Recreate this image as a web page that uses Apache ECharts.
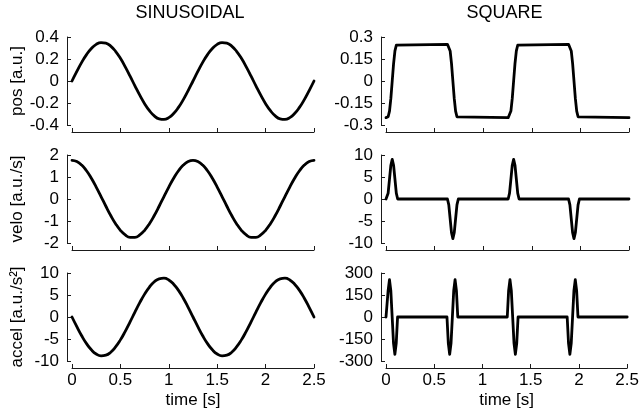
<!DOCTYPE html>
<html><head><meta charset="utf-8">
<script src="https://cdn.jsdelivr.net/npm/echarts@6/dist/echarts.min.js"></script>
<style>html,body{margin:0;padding:0;background:#fff}#c{width:642px;height:416px}</style>
</head><body><div id="c"></div>
<script>
// ---------- data ----------
const sinTime = [0,0.05,0.1,0.15,0.2,0.25,0.3,0.35,0.4,0.45,0.5,0.55,0.6,0.65,0.7,0.75,0.8,0.85,0.9,0.95,1,1.05,1.1,1.15,1.2,1.25,1.3,1.35,1.4,1.45,1.5,1.55,1.6,1.65,1.7,1.75,1.8,1.85,1.9,1.95,2,2.05,2.1,2.15,2.2,2.25,2.3,2.35,2.4,2.45,2.5];
const sinPos = [0,0.087,0.169,0.240,0.296,0.333,0.349,0.344,0.317,0.270,0.206,0.129,0.044,-0.044,-0.129,-0.206,-0.270,-0.317,-0.344,-0.349,-0.333,-0.296,-0.240,-0.169,-0.087,0,0.087,0.169,0.240,0.296,0.333,0.349,0.344,0.317,0.270,0.206,0.129,0.044,-0.044,-0.129,-0.206,-0.270,-0.317,-0.344,-0.349,-0.333,-0.296,-0.240,-0.169,-0.087,0];
const sinVelo = [1.76,1.705,1.542,1.283,0.943,0.544,0.111,-0.330,-0.749,-1.122,-1.424,-1.636,-1.746,-1.746,-1.636,-1.424,-1.122,-0.749,-0.330,0.111,0.544,0.943,1.283,1.542,1.705,1.76,1.705,1.542,1.283,0.943,0.544,0.111,-0.330,-0.749,-1.122,-1.424,-1.636,-1.746,-1.746,-1.636,-1.424,-1.122,-0.749,-0.330,0.111,0.544,0.943,1.283,1.542,1.705,1.76];
const sinAccel = [0,-2.20,-4.26,-6.05,-7.46,-8.41,-8.82,-8.68,-8.00,-6.81,-5.20,-3.25,-1.11,1.11,3.25,5.20,6.81,8.00,8.68,8.82,8.41,7.46,6.05,4.26,2.20,0,-2.20,-4.26,-6.05,-7.46,-8.41,-8.82,-8.68,-8.00,-6.81,-5.20,-3.25,-1.11,1.11,3.25,5.20,6.81,8.00,8.68,8.82,8.41,7.46,6.05,4.26,2.20,0];

const sqTime = [0,
  0.008,0.022,0.036,0.050,0.064,0.078,0.092,0.106,0.120,
  0.632,0.646,0.660,0.674,0.688,0.702,0.716,0.730,0.744,
  1.257,1.271,1.285,1.299,1.313,1.327,1.341,1.355,1.369,
  1.878,1.892,1.906,1.920,1.934,1.948,1.962,1.976,1.990,
  2.5];
const sqPos = [-0.25,
  -0.25,-0.244,-0.205,-0.119,0,0.119,0.205,0.244,0.25,
  0.25,0.244,0.205,0.119,0,-0.119,-0.205,-0.244,-0.25,
  -0.25,-0.244,-0.205,-0.119,0,0.119,0.205,0.244,0.25,
  0.25,0.244,0.205,0.119,0,-0.119,-0.205,-0.244,-0.25,
  -0.25];
const sqVelo = [0,
  0,1.32,4.5,7.68,9,7.68,4.5,1.32,0,
  0,-1.32,-4.5,-7.68,-9,-7.68,-4.5,-1.32,0,
  0,1.32,4.5,7.68,9,7.68,4.5,1.32,0,
  0,-1.32,-4.5,-7.68,-9,-7.68,-4.5,-1.32,0,
  0];
const sqAccel = [0,
  0,180,254,180,0,-180,-254,-180,0,
  0,-180,-254,-180,0,180,254,180,0,
  0,180,254,180,0,-180,-254,-180,0,
  0,-180,-254,-180,0,180,254,180,0,
  0];

const timeTicks = [0,0.5,1,1.5,2,2.5];
const posTicksL = [-0.4,-0.2,0,0.2,0.4];
const veloTicksL = [-2,-1,0,1,2];
const accelTicksL = [-10,-5,0,5,10];
const posTicksR = [-0.3,-0.15,0,0.15,0.3];
const veloTicksR = [-10,-5,0,5,10];
const accelTicksR = [-300,-150,0,150,300];

const colTitles = ['SINUSOIDAL','SQUARE'];
const rowNames = ['pos [a.u.]','velo [a.u./s]','accel [a.u./s\u00B2]'];
const xName = 'time [s]';

// ---------- layout ----------
const FONT = 'Liberation Sans, Arial, Helvetica, sans-serif';
const colLeft = [72, 386];
const colWidth = [242, 243];
const rowTop = [37, 155, 273];
const rowHeight = 88;

const panels = [
  {col:0,row:0,t:sinTime,v:sinPos,ticks:posTicksL},
  {col:0,row:1,t:sinTime,v:sinVelo,ticks:veloTicksL},
  {col:0,row:2,t:sinTime,v:sinAccel,ticks:accelTicksL},
  {col:1,row:0,t:sqTime,v:sqPos,ticks:posTicksR},
  {col:1,row:1,t:sqTime,v:sqVelo,ticks:veloTicksR},
  {col:1,row:2,t:sqTime,v:sqAccel,ticks:accelTicksR}
];

const axisColor = '#1a1a1a';
const grid = [], xAxis = [], yAxis = [], series = [];
panels.forEach((p, i) => {
  grid.push({left: colLeft[p.col], top: rowTop[p.row], width: colWidth[p.col], height: rowHeight});
  const bottom = p.row === 2;
  xAxis.push({
    type:'value', gridIndex:i, min:timeTicks[0], max:timeTicks[timeTicks.length-1],
    interval: timeTicks[1]-timeTicks[0], offset:7,
    axisLine:{show:true, onZero:false, lineStyle:{color:axisColor, width:1}},
    axisTick:{show:true, inside:true, length:4, lineStyle:{color:axisColor}},
    axisLabel:{show:bottom, fontSize:17, color:'#000', fontFamily:FONT, margin:4},
    splitLine:{show:false},
    name: bottom ? xName : '', nameLocation:'middle', nameGap:24, nameMoveOverlap:false,
    nameTextStyle:{fontSize:17, color:'#000', fontFamily:FONT}
  });
  const tk = p.ticks;
  yAxis.push({
    type:'value', gridIndex:i, min:tk[0], max:tk[tk.length-1], interval: tk[1]-tk[0], offset:5,
    axisLine:{show:true, onZero:false, lineStyle:{color:axisColor, width:1}},
    axisTick:{show:true, inside:true, length:4, lineStyle:{color:axisColor}},
    axisLabel:{fontSize:17, color:'#000', fontFamily:FONT, margin:8},
    splitLine:{show:false},
    name: p.col === 0 ? rowNames[p.row] : '', nameLocation:'middle', nameGap:41, nameMoveOverlap:false,
    nameTextStyle:{fontSize:17, color:'#000', fontFamily:FONT}
  });
  series.push({
    type:'line', xAxisIndex:i, yAxisIndex:i, showSymbol:false, smooth: p.col === 0,
    data: p.t.map((t, k) => [t, p.v[k]]),
    lineStyle:{color:'#000', width:2.8, join:'round', cap:'round'}, clip:false
  });
});

const title = colTitles.map((txt, c) => ({
  text: txt, left: colLeft[c] + colWidth[c]/2 - 3, top: 4, padding:0, textAlign:'center',
  textStyle:{fontSize:18, fontWeight:'normal', color:'#000', fontFamily:FONT}
}));

const chart = echarts.init(document.getElementById('c'), null, {renderer:'canvas'});
chart.setOption({animation:false, backgroundColor:'#fff', title, grid, xAxis, yAxis, series});
</script>
</body></html>
